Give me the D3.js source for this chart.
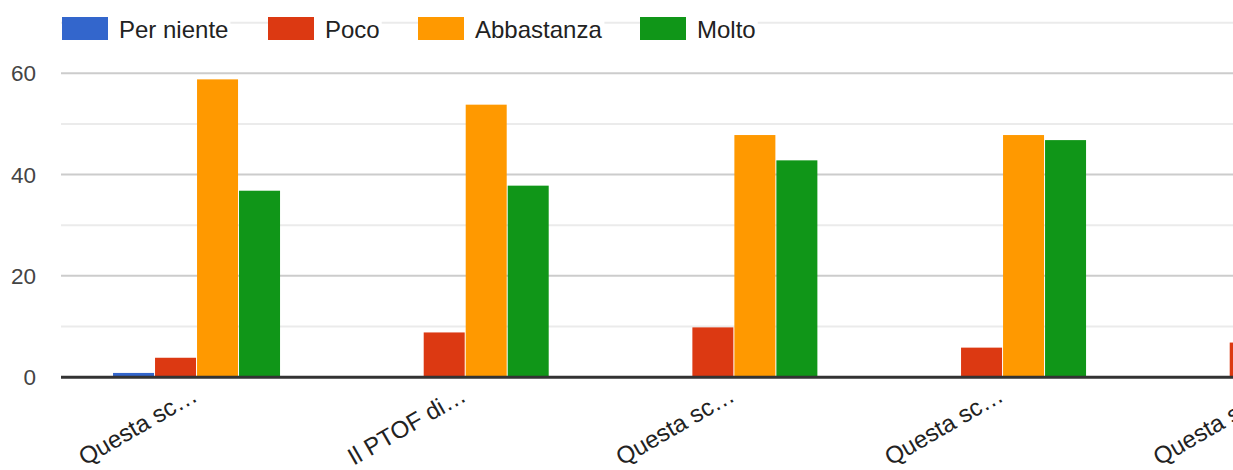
<!DOCTYPE html>
<html>
<head>
<meta charset="utf-8">
<script src="https://cdn.jsdelivr.net/npm/d3@7"></script>
<style>
html,body{margin:0;padding:0;background:#fff;overflow:hidden;}
text{font-family:"Liberation Sans",Arial,sans-serif;}
</style>
</head>
<body>
<svg id="chart" width="1233" height="470"></svg>
<script>
// ---- data ----
const categories = ["Questa sc…", "Il PTOF di…", "Questa sc…", "Questa sc…", "Questa sc…"];
const seriesNames = ["Per niente", "Poco", "Abbastanza", "Molto"];
const seriesColors = ["#3366cc", "#dc3912", "#ff9900", "#109618"];
const perNiente = [1, 0, 0, 0, 0];
const poco = [4, 9, 10, 6, 7];
const abbastanza = [59, 54, 48, 48, 50];
const molto = [37, 38, 43, 47, 40];
const majorTicks = [0, 20, 40, 60];
const minorTicks = [10, 30, 50, 70];

const seriesValues = [perNiente, poco, abbastanza, molto];

const svg = d3.select("#chart");
const W = 1233, H = 470;
const left = 61;

const y = d3.scaleLinear().domain([0, 60]).range([377, 73.3]);

const idx = categories.map((c, i) => i);
const step = 268.67;
const pin = 100.67 / step;
const x0 = d3.scaleBand().domain(idx).range([62.7, 62.7 + step * idx.length])
  .paddingInner(pin).paddingOuter(pin / 2);
const x1 = d3.scaleBand().domain(seriesNames).range([0, x0.bandwidth()]);

// gridlines
const g = svg.append("g");
g.selectAll("line.minor").data(minorTicks).enter().append("line")
  .attr("x1", left).attr("x2", W)
  .attr("y1", d => y(d)).attr("y2", d => y(d))
  .attr("stroke", "#ebebeb").attr("stroke-width", 2);
g.selectAll("line.major").data(majorTicks.filter(d => d !== 0)).enter().append("line")
  .attr("x1", left).attr("x2", W)
  .attr("y1", d => y(d)).attr("y2", d => y(d))
  .attr("stroke", "#cccccc").attr("stroke-width", 2);

// y labels
svg.selectAll("text.ylab").data(majorTicks).enter().append("text")
  .attr("x", 36).attr("y", d => y(d))
  .attr("dy", "0.36em")
  .attr("text-anchor", "end")
  .attr("font-size", 22.5)
  .attr("fill", "#444")
  .text(d => d);

// bars
const groups = svg.append("g").selectAll("g").data(idx).enter().append("g")
  .attr("transform", i => `translate(${x0(i)},0)`);
groups.selectAll("rect").data(i => seriesNames.map((s, k) => ({s, k, v: seriesValues[k][i]})))
  .enter().append("rect")
  .attr("x", d => x1(d.s))
  .attr("width", x1.bandwidth() - 1)
  .attr("y", d => y(d.v) + 1)
  .attr("height", d => Math.max(0, y(0) - y(d.v) - 1))
  .attr("fill", d => seriesColors[d.k]);

// baseline
svg.append("line").attr("x1", left).attr("x2", W)
  .attr("y1", y(0) + 0.3).attr("y2", y(0) + 0.3)
  .attr("stroke", "#333").attr("stroke-width", 3);

// x labels
svg.selectAll("text.xlab").data(idx).enter().append("text")
  .attr("text-anchor", "end")
  .attr("font-size", 24)
  .attr("fill", "#222")
  .attr("transform", i => `translate(${x0(i) + x0.bandwidth() / 2 + 2},${y(0) + 23}) rotate(-30)`)
  .text(i => categories[i]);

// legend
const legendX = [62, 268, 418, 640];
const lg = svg.append("g");
seriesNames.forEach((s, k) => {
  const gg = lg.append("g").attr("transform", `translate(${legendX[k]},0)`);
  const t = gg.append("text").attr("x", 57).attr("y", 29).attr("dy", "0.36em")
    .attr("font-size", 24).attr("fill", "#222").text(s);
  const bb = t.node().getBBox();
  gg.insert("rect", "text").attr("x", 0).attr("y", 14).attr("width", 57 + bb.width + 2).attr("height", 30).attr("fill", "#fff");
  gg.append("rect").attr("x", 0).attr("y", 17).attr("width", 46).attr("height", 23)
    .attr("fill", seriesColors[k]);
});
</script>
</body>
</html>
